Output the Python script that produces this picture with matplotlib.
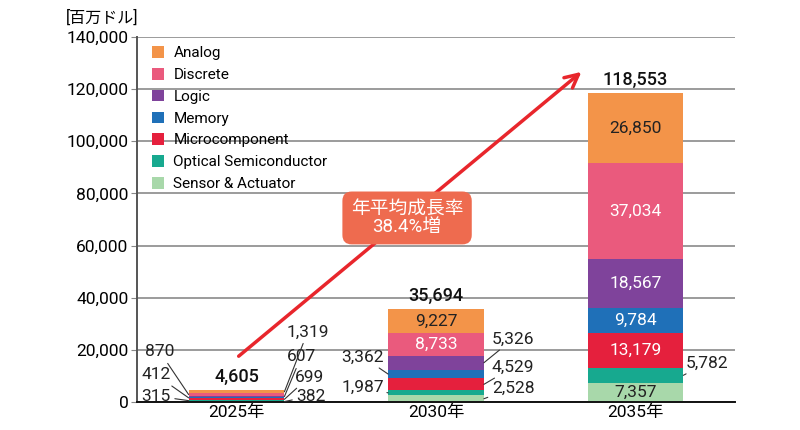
import numpy as np
import matplotlib.pyplot as plt

plt.rcParams['font.family'] = ['Roboto', 'Noto Sans CJK JP', 'DejaVu Sans']

years = ['2025年', '2030年', '2035年']
segments = ['Sensor & Actuator', 'Optical Semiconductor', 'Microcomponent',
            'Memory', 'Logic', 'Discrete', 'Analog']  # bottom -> top
values = {
    'Sensor & Actuator':     [382, 2528, 7357],
    'Optical Semiconductor': [315, 1987, 5782],
    'Microcomponent':        [699, 4529, 13179],
    'Memory':                [412, 3362, 9784],
    'Logic':                 [607, 5326, 18567],
    'Discrete':              [870, 8733, 37034],
    'Analog':                [1319, 9227, 26850],
}
totals = ['4,605', '35,694', '118,553']
colors = {
    'Analog': '#F39449', 'Discrete': '#EA5A7D', 'Logic': '#7F439B',
    'Memory': '#1F70B8', 'Microcomponent': '#E5203D',
    'Optical Semiconductor': '#17A98F', 'Sensor & Actuator': '#A8D8AA',
}
cagr_text = '年平均成長率\n38.4%増'

# label placement: (year index, segment) -> ('L'|'R', text x offset, text y)
place = {
    (0, 'Analog'): ('R', 0.25, 26900), (0, 'Discrete'): ('L', -0.31, 19200),
    (0, 'Logic'): ('R', 0.25, 17300), (0, 'Memory'): ('L', -0.33, 10400),
    (0, 'Microcomponent'): ('R', 0.29, 9600), (0, 'Optical Semiconductor'): ('L', -0.33, 2300),
    (0, 'Sensor & Actuator'): ('R', 0.30, 2300),
    (1, 'Logic'): ('R', 0.28, 24200), (1, 'Memory'): ('L', -0.26, 17300),
    (1, 'Microcomponent'): ('R', 0.28, 13400), (1, 'Optical Semiconductor'): ('L', -0.26, 5750),
    (1, 'Sensor & Actuator'): ('R', 0.28, 5400),
    (2, 'Optical Semiconductor'): ('R', 0.25, 15000),
}
dark_in = {'Analog', 'Sensor & Actuator'}
fs = 12.5

fig = plt.figure(figsize=(8, 4.3), dpi=100)
ax = fig.add_axes([0.171, 0.065, 0.748, 0.849])

x = np.arange(len(years))
w = 0.48
bottom = np.zeros(len(years))
for seg in segments:
    v = np.array(values[seg], dtype=float)
    ax.bar(x, v, w, bottom=bottom, color=colors[seg], label=seg, zorder=3)
    for i in range(len(years)):
        mid = bottom[i] + v[i] / 2
        lab = f'{int(v[i]):,}'
        p = place.get((i, seg))
        if p is None:
            ax.text(x[i], mid, lab, ha='center', va='center', fontsize=fs,
                    color='#222222' if seg in dark_in else 'white', zorder=4)
        else:
            side, tx, ty = p
            edge = x[i] + (w / 2 if side == 'R' else -w / 2)
            ax.annotate(lab, xy=(edge, mid), xytext=(x[i] + tx, ty),
                        ha='left' if side == 'R' else 'right', va='center',
                        fontsize=fs, color='#222222', zorder=5,
                        arrowprops=dict(arrowstyle='-', lw=0.8, color='#333333',
                                        shrinkA=1, shrinkB=0))
    bottom += v

for i in range(len(years)):
    ax.annotate(totals[i], xy=(x[i], bottom[i]), xytext=(0, 3),
                textcoords='offset points', ha='center', va='bottom',
                fontsize=13, fontweight='medium', color='#111111', zorder=5)

# growth arrow and label
ax.annotate('', xy=(1.74, 127300), xytext=(0.0, 16900),
            arrowprops=dict(arrowstyle='->', color='#E8262C', lw=2.5,
                            mutation_scale=24), zorder=6)
ax.text(0.855, 70600, cagr_text, ha='center', va='center', fontsize=13.5,
        color='white', linespacing=1.0, zorder=7,
        bbox=dict(boxstyle='round,pad=0.45,rounding_size=0.5',
                  fc='#EE6B4F', ec='none'))

ax.set_xlim(-0.5, 2.5)
ax.set_ylim(0, 140000)
ax.set_yticks(np.arange(0, 140001, 20000))
ax.set_yticklabels([f'{t:,}' for t in range(0, 140001, 20000)], fontsize=fs)
ax.set_xticks(x)
ax.set_xticklabels(years, fontsize=fs)
ax.tick_params(axis='x', length=0, pad=2)
ax.tick_params(axis='y', length=4, color='#888888', pad=2)
ax.grid(axis='y', color='#8a8a8a', lw=1.2, zorder=0)
for s in ['top', 'right']:
    ax.spines[s].set_visible(False)
ax.spines['left'].set_color('#555555')
ax.spines['left'].set_linewidth(1.4)
ax.spines['bottom'].set_color('#111111')
ax.spines['bottom'].set_linewidth(1.4)
ax.spines['bottom'].set_zorder(4)

h, l = ax.get_legend_handles_labels()
ax.legend(h[::-1], l[::-1], loc='upper left', bbox_to_anchor=(0.01, 1.0),
          frameon=False, fontsize=11, handlelength=0.8, handleheight=0.8,
          handletextpad=0.6, labelspacing=0.5, borderaxespad=0.2)

fig.text(0.082, 0.958, '[百万ドル]', fontsize=11.5, ha='left', va='center')

fig.savefig('out.png', dpi=100)
